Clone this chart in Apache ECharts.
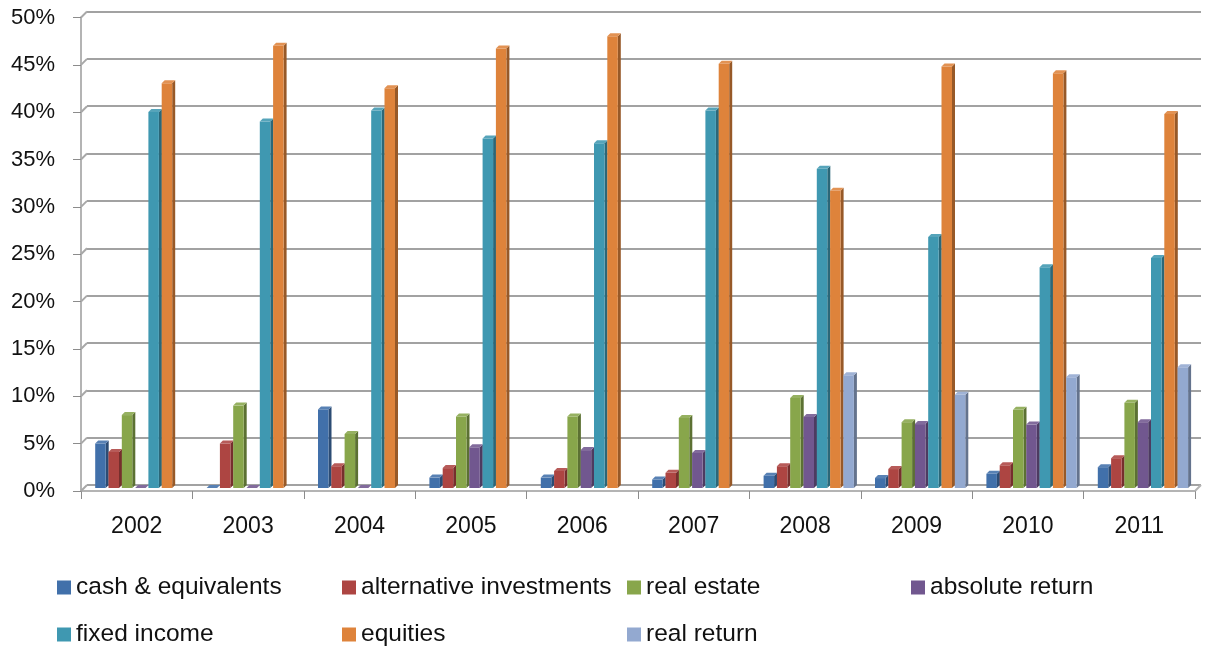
<!DOCTYPE html>
<html>
<head>
<meta charset="utf-8">
<script src="https://cdn.jsdelivr.net/npm/echarts@6/dist/echarts.min.js"></script>
<style>
  html, body { margin: 0; padding: 0; background: #ffffff; }
  #chart { width: 1205px; height: 647px; }
</style>
</head>
<body>
<div id="chart"></div>
<script>
// Portfolio allocation by asset class, 2002-2011 (percent of total)
const years = ['2002', '2003', '2004', '2005', '2006', '2007', '2008', '2009', '2010', '2011'];
const cashEquivalents        = [4.7, 0,    8.3,  1.1,  1.1,  0.9,  1.3,  1.05, 1.5,  2.2];
const alternativeInvestments = [3.8, 4.7,  2.3,  2.1,  1.8,  1.6,  2.3,  2.0,  2.4,  3.15];
const realEstate             = [7.7, 8.7,  5.7,  7.55, 7.55, 7.4,  9.5,  6.95, 8.25, 9.0];
const absoluteReturn         = [0,   0,    0,    4.3,  4.0,  3.7,  7.5,  6.75, 6.7,  6.95];
const fixedIncome            = [39.7, 38.7, 39.85, 36.9, 36.4, 39.85, 33.7, 26.5, 23.3, 24.3];
const equities               = [42.75, 46.7, 42.2, 46.4, 47.7, 44.8, 31.4, 44.5, 43.8, 39.5];
const realReturn             = [null, null, null, null, null, null, 11.9, 9.85, 11.7, 12.75];
const yTicks = [0, 5, 10, 15, 20, 25, 30, 35, 40, 45, 50];

const seriesDefs = [
  { name: 'cash & equivalents',      values: cashEquivalents,        color: '#4170AA' },
  { name: 'alternative investments', values: alternativeInvestments, color: '#AD4542' },
  { name: 'real estate',             values: realEstate,             color: '#88A64B' },
  { name: 'absolute return',         values: absoluteReturn,         color: '#71578F' },
  { name: 'fixed income',            values: fixedIncome,            color: '#3F98B1' },
  { name: 'equities',                values: equities,               color: '#DE833B' },
  { name: 'real return',             values: realReturn,             color: '#93A9D0' }
];

function shade(hex, f) {
  const n = parseInt(hex.slice(1), 16);
  let r = (n >> 16) & 255, g = (n >> 8) & 255, b = n & 255;
  if (f < 1) { r *= f; g *= f; b *= f; }
  else { r += (255 - r) * (f - 1); g += (255 - g) * (f - 1); b += (255 - b) * (f - 1); }
  return 'rgb(' + Math.round(r) + ',' + Math.round(g) + ',' + Math.round(b) + ')';
}

// Column with a visible top and right side, placed in its slot of the cluster
const SLOT = 13.3, FACE = 10.5, DEPTH = 3, FIRST = -41.5, WALL = 6;
function makeRender(slot, color) {
  const side = shade(color, 0.68);
  const top = shade(color, 1.12);
  return function (params, api) {
    const v = api.value(1);
    if (v === null || v === undefined || isNaN(v)) return;
    const pt = api.coord([api.value(0), v]);
    const base = api.coord([api.value(0), 0]);
    const x0 = pt[0] + FIRST + slot * SLOT;
    const yTop = pt[1] - DEPTH;
    const yBot = base[1] - DEPTH;
    const x1 = x0 + FACE;
    return {
      type: 'group',
      children: [
        { type: 'polygon', shape: { points: [[x1, yTop], [x1 + DEPTH, yTop - DEPTH], [x1 + DEPTH, yBot - DEPTH], [x1, yBot]] },
          style: { fill: side } },
        { type: 'rect', shape: { x: x0, y: yTop, width: FACE, height: Math.max(0, yBot - yTop) },
          style: { fill: color } },
        { type: 'polygon', shape: { points: [[x0, yTop], [x1, yTop], [x1 + DEPTH, yTop - DEPTH], [x0 + DEPTH, yTop - DEPTH]] },
          style: { fill: top } }
      ]
    };
  };
}

const series = seriesDefs.map((d, s) => ({
  name: d.name,
  type: 'custom',
  xAxisIndex: 0,
  yAxisIndex: 0,
  itemStyle: { color: d.color },
  renderItem: makeRender(s, d.color),
  encode: { x: 0, y: 1 },
  data: d.values.map((v, i) => [i, v])
}));

// Side wall edges joining each front tick to its gridline on the back wall,
// plus the right-hand edge of the floor
series.push({
  type: 'custom',
  name: 'wall',
  silent: true,
  xAxisIndex: 0,
  yAxisIndex: 0,
  renderItem: function (params, api) {
    const cs = params.coordSys;
    const y = api.coord([0, api.value(0)])[1];
    const lines = [
      { type: 'line', shape: { x1: cs.x, y1: y, x2: cs.x + WALL, y2: y - WALL },
        style: { stroke: '#a8a8a8', lineWidth: 2 } }
    ];
    if (api.value(0) === 0) {
      lines.push({ type: 'line', shape: { x1: cs.x + cs.width, y1: y, x2: cs.x + cs.width + WALL, y2: y - WALL },
        style: { stroke: '#b4b4b4', lineWidth: 2 } });
    }
    return { type: 'group', children: lines };
  },
  encode: { y: 0 },
  data: yTicks.map(v => [v]),
  z: 1
});

// Legend laid out in fixed columns, two rows
const legendSlots = [
  [57, 575], [342, 575], [627, 575], [911, 575],
  [57, 622], [342, 622], [627, 622]
];
const legends = seriesDefs.map((d, k) => ({
  data: [d.name],
  left: legendSlots[k][0],
  top: legendSlots[k][1],
  padding: 0,
  icon: 'rect',
  itemWidth: 14,
  itemHeight: 14,
  selectedMode: false,
  textStyle: { fontFamily: 'Liberation Sans', fontSize: 24.5, color: '#111111' }
}));

const axisGray = '#b4b4b4';
const option = {
  backgroundColor: '#ffffff',
  animation: false,
  legend: legends,
  grid: [
    { left: 81, right: 10, top: 17.5, bottom: 156 },   // front edge: axes, labels, columns
    { left: 87, right: 4, top: 11.5, bottom: 162 }     // back wall: gridlines
  ],
  xAxis: [
    {
      type: 'category', gridIndex: 0, data: years,
      axisLine: { show: true, lineStyle: { color: axisGray, width: 2 } },
      axisTick: { show: true, interval: 0, length: 8, lineStyle: { color: '#8c8c8c', width: 1 } },
      axisLabel: { interval: 0, margin: 24, fontFamily: 'Liberation Sans', fontSize: 23, color: '#111111' },
      splitLine: { show: false }
    },
    {
      type: 'category', gridIndex: 1, data: years, show: false
    }
  ],
  yAxis: [
    {
      type: 'value', gridIndex: 0, min: 0, max: 50, interval: 5,
      axisLine: { show: true, lineStyle: { color: axisGray, width: 2 } },
      axisTick: { show: true, length: 8, lineStyle: { color: '#8c8c8c', width: 1 } },
      axisLabel: { margin: 26, fontFamily: 'Liberation Sans', fontSize: 22, color: '#111111',
                   formatter: v => v + '%' },
      splitLine: { show: false }
    },
    {
      type: 'value', gridIndex: 1, min: 0, max: 50, interval: 5,
      axisLine: { show: false }, axisTick: { show: false }, axisLabel: { show: false },
      splitLine: { show: true, lineStyle: { color: '#a2a2a2', width: 2 } }
    }
  ],
  series: series
};

const chart = echarts.init(document.getElementById('chart'), null, { renderer: 'canvas' });
chart.setOption(option);
</script>
</body>
</html>
